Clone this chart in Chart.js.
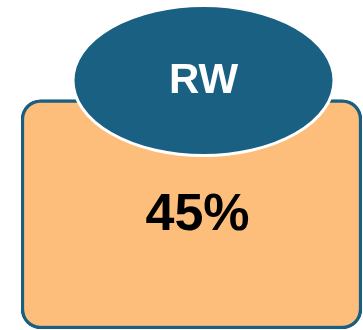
<!DOCTYPE html>
<html>
<head>
<meta charset="utf-8">
<script src="https://cdn.jsdelivr.net/npm/chart.js@4/dist/chart.umd.min.js"></script>
<style>
  html, body { margin: 0; padding: 0; background: #fff; }
  #wrap { width: 363px; height: 330px; }
</style>
</head>
<body>
<div id="wrap"><canvas id="rwChart" width="363" height="330"></canvas></div>
<script>
const labels = ['RW'];
const values = [45];

// ellipse badge + value text, placed from the bar element
const badgePlugin = {
    id: 'badge',
    afterDatasetsDraw(chart) {
        const ctx = chart.ctx;
        const bar = chart.getDatasetMeta(0).data[0];
        const cx = bar.x + 12;
        const cy = bar.y - 19;

        ctx.save();
        ctx.beginPath();
        ctx.ellipse(cx, cy, 130.5, 75, 0, 0, Math.PI * 2);
        ctx.fillStyle = '#196082';
        ctx.fill();
        ctx.lineWidth = 3;
        ctx.strokeStyle = '#ffffff';
        ctx.stroke();

        ctx.textAlign = 'center';
        ctx.textBaseline = 'middle';
        ctx.fillStyle = '#ffffff';
        ctx.font = 'bold 42px "Liberation Sans", Arial, sans-serif';
        ctx.fillText(labels[0], cx, cy + 1);

        ctx.fillStyle = '#000000';
        ctx.font = 'bold 52px "Liberation Sans", Arial, sans-serif';
        ctx.fillText(values[0] + '%', bar.x + 6, bar.y + 116);
        ctx.restore();
    }
};

const ctx = document.getElementById('rwChart').getContext('2d');
new Chart(ctx, {
    type: 'bar',
    data: {
        labels: labels,
        datasets: [{
            data: values,
            backgroundColor: '#fdbe7b',
            borderColor: '#1a5f80',
            borderWidth: 3.5,
            borderRadius: 20,
            borderSkipped: false,
            barPercentage: 1,
            categoryPercentage: 1
        }]
    },
    options: {
        responsive: false,
        devicePixelRatio: 1,
        animation: false,
        layout: { padding: { left: 21, right: 1, top: 0, bottom: 1 } },
        plugins: {
            legend: { display: false },
            tooltip: { enabled: false }
        },
        scales: {
            x: { display: false },
            y: { display: false, min: 0, max: 64.5 }
        }
    },
    plugins: [badgePlugin]
});
</script>
</body>
</html>
